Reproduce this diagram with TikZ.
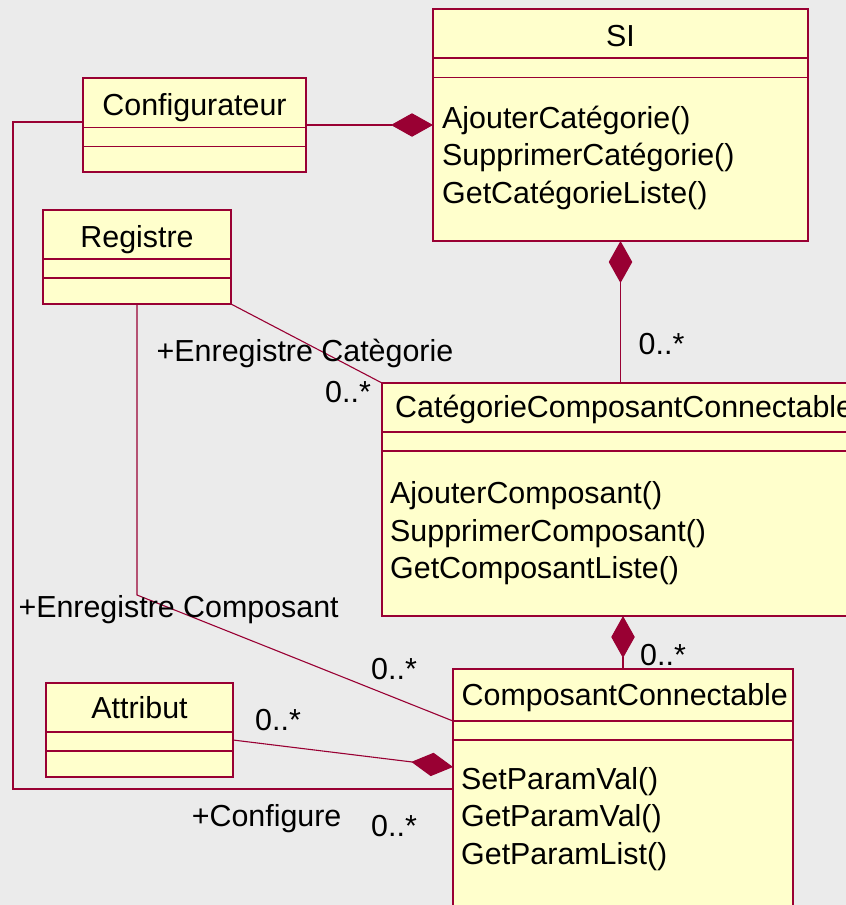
\documentclass[tikz,border=0pt]{standalone}
\usepackage{fontspec}
\setmainfont{Liberation Sans}
\usetikzlibrary{arrows.meta}
\definecolor{umlred}{HTML}{990033}
\definecolor{umlfill}{HTML}{FFFFCC}
\definecolor{canvas}{HTML}{EBEBEB}
\tikzset{
  cls/.style={draw=umlred, fill=umlfill, line width=1.3pt, rectangle,
    inner sep=0pt, outer sep=0pt, anchor=north west},
  sepline/.style={draw=umlred, line width=1.2pt},
  assoc/.style={draw=umlred, line width=1.1pt},
  compo/.tip={Diamond[length=42pt, width=23.5pt]},
  txt/.style={font=\fontsize{30.4pt}{37pt}\selectfont, inner sep=0pt, text=black},
  lbl/.style={txt, anchor=base west},
  ttl/.style={txt, anchor=base},
}
% two compartment separators, given as offsets below the top edge
\newcommand\umlseps[3]{%
  \draw[sepline] ([yshift=-#2pt]#1.north west) -- ([yshift=-#2pt]#1.north east);
  \draw[sepline] ([yshift=-#3pt]#1.north west) -- ([yshift=-#3pt]#1.north east);}
\begin{document}
\begin{tikzpicture}[x=1pt, y=-1pt]
\fill[canvas] (0,0) rectangle (846,905);
\useasboundingbox (0,0) rectangle (846,905);
\clip (0,0) rectangle (846,905);

% classes
\node[cls, minimum width=375pt, minimum height=232pt] (si)   at (433,9)   {};
\node[cls, minimum width=223pt, minimum height=94pt]  (cfg)  at (83,78)   {};
\node[cls, minimum width=188pt, minimum height=94pt]  (reg)  at (43,210)  {};
\node[cls, minimum width=480pt, minimum height=233pt] (cat)  at (382,383) {};
\node[cls, minimum width=187pt, minimum height=94pt]  (attr) at (46,683)  {};
\node[cls, minimum width=340pt, minimum height=300pt] (comp) at (453,669) {};

\umlseps{si}{49}{68.5}
\umlseps{cfg}{49.5}{68.5}
\umlseps{reg}{49}{68}
\umlseps{cat}{49}{68}
\umlseps{attr}{49}{68}
\umlseps{comp}{52}{71}

% class names
\node[ttl] (siname)   at (620.5,46.7) {SI};
\node[ttl] (cfgname)  at (194.5,115)  {Configurateur};
\node[ttl] (regname)  at (137,247)    {Registre};
\node[ttl] (attrname) at (139.5,718.3) {Attribut};
\node[lbl] (catname)  at (395,417)    {CatégorieComposantConnectable};
\node[lbl] (compname) at (461.5,705.5) {ComposantConnectable};

% operations
\node[lbl] (siop1) at (442,128.3) {AjouterCatégorie()};
\node[lbl] (siop2) at (442,165.8) {SupprimerCatégorie()};
\node[lbl] (siop3) at (442,203.3) {GetCatégorieListe()};
\node[lbl] (catop1) at (390,503.5) {AjouterComposant()};
\node[lbl] (catop2) at (390,541)   {SupprimerComposant()};
\node[lbl] (catop3) at (390,578.5) {GetComposantListe()};
\node[lbl] (compop1) at (461,789.3) {SetParamVal()};
\node[lbl] (compop2) at (461,826.7) {GetParamVal()};
\node[lbl] (compop3) at (461,864)   {GetParamList()};

% compositions
\draw[assoc, -{compo}] (cfg.east) -- (si.west);
\draw[assoc, {compo}-] (si.south) -- (si.south |- cat.north);
\draw[assoc, {compo}-] (comp.north |- cat.south) -- (comp.north);
\draw[assoc, -{compo}] ([yshift=-57pt]attr.north east) -- ([yshift=-98pt]comp.north west);

% associations
\draw[assoc] (reg.south east) -- (cat.north west);
\path (reg.south) ++(0,291) coordinate (regbend);
\draw[assoc] (reg.south) -- (regbend) -- ([yshift=-52pt]comp.north west);
\coordinate (rail) at (13,500);
\draw[assoc] ([yshift=-44pt]cfg.north west) -| (rail) |- ([yshift=-120pt]comp.north west);

% role names and multiplicities
\node[lbl] (rolecat)  at (156.5,361)  {+Enregistre Catègorie};
\node[lbl] (mcat)     at (325,402)    {0..*};
\node[lbl] (msicat)   at (638.5,354)  {0..*};
\node[lbl] (rolecomp) at (18.3,617.3) {+Enregistre Composant};
\node[lbl] (mregcomp) at (371,679.3)  {0..*};
\node[lbl] (mcatcomp) at (640,665.7)  {0..*};
\node[lbl] (mattr)    at (255,730)    {0..*};
\node[lbl] (rolecfg)  at (191.6,826.7) {+Configure};
\node[lbl] (mcfg)     at (371,836.7)  {0..*};
\end{tikzpicture}
\end{document}
